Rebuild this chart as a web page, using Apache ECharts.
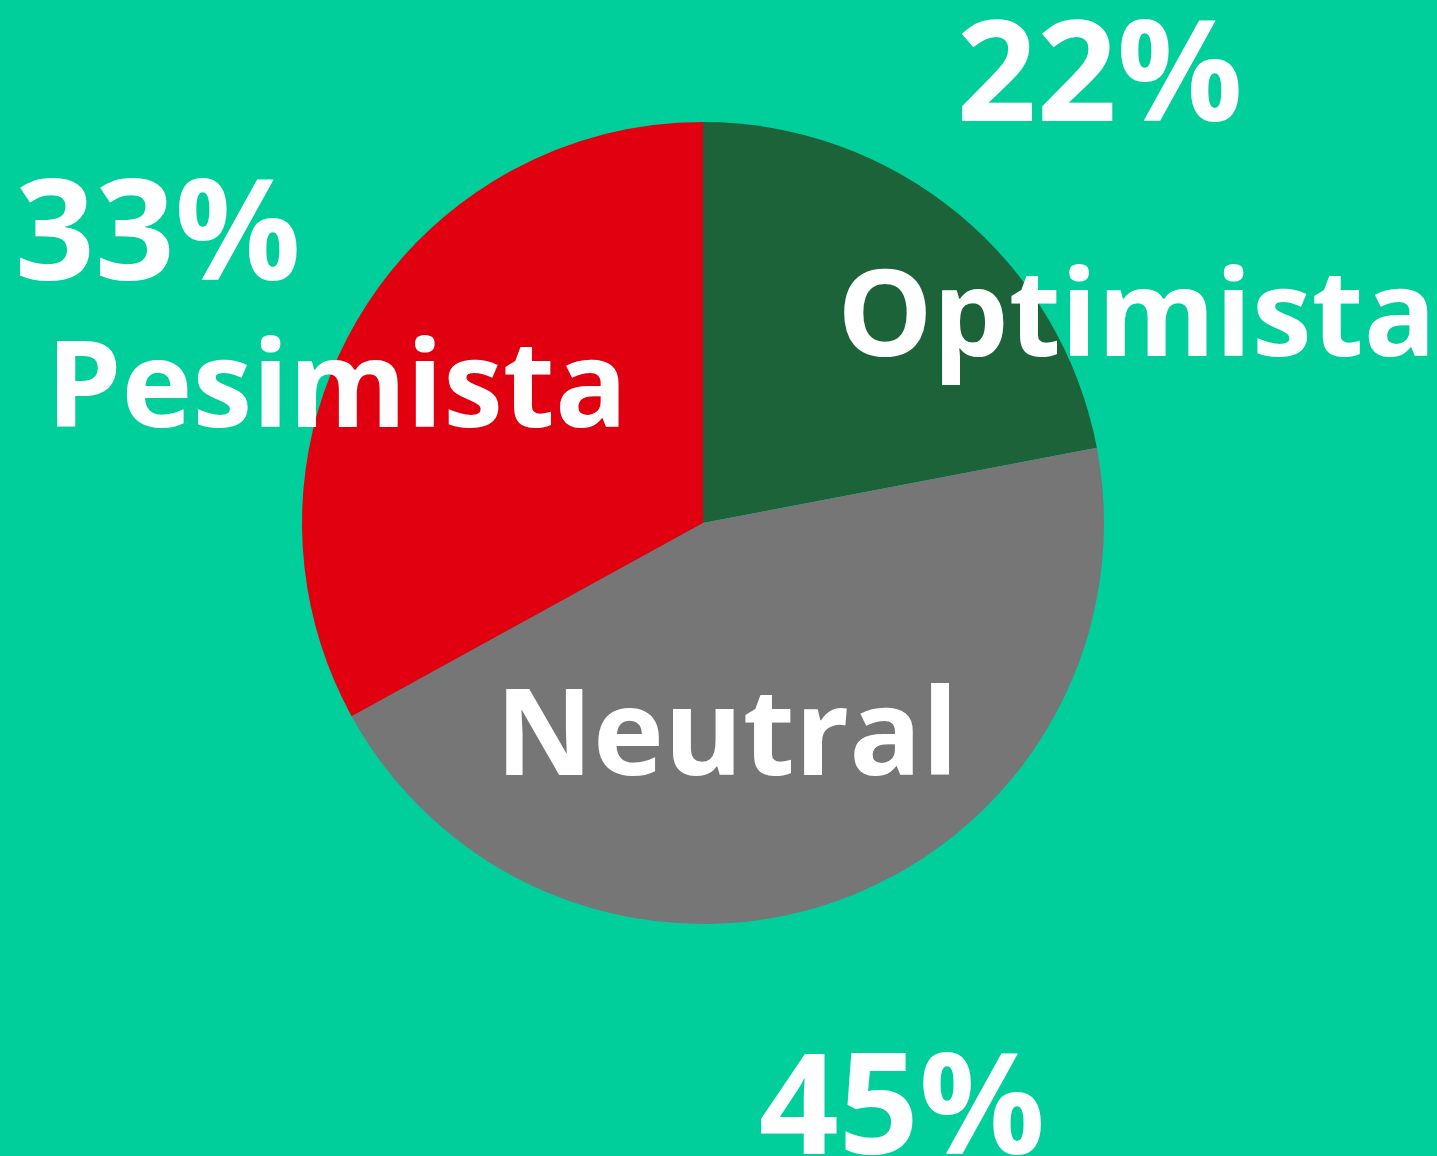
<!DOCTYPE html>
<html>
<head>
<meta charset="UTF-8">
<script src="https://cdn.jsdelivr.net/npm/echarts@6/dist/echarts.min.js"></script>
<style>
    html, body { margin: 0; padding: 0; background: #00CF9C; }
    #main { width: 1437px; height: 1156px; }
</style>
</head>
<body>
<div id="main"></div>
<script type="text/javascript">
    // datos de la encuesta
    var categories = ['Optimista', 'Neutral', 'Pesimista'];
    var values = [22, 45, 33];
    var colors = ['#1D6339', '#767676', '#E0000F'];

    // desplazamiento de etiquetas respecto a la posicion 'inside'
    var nameOffsets = [[304, -44], [-45, 26], [-191, -27]];
    var pctOffsets = [[267, -285], [130, 400], [-370, -179]];

    var chart = echarts.init(document.getElementById('main'));

    var pieData = categories.map(function (c, i) {
        return { name: c, value: values[i], itemStyle: { color: colors[i] } };
    });

    var labelFont = {
        color: '#ffffff',
        fontFamily: 'Open Sans',
        fontWeight: 'bold'
    };

    var option = {
        backgroundColor: '#00CF9C',
        animation: false,
        series: [
            {
                name: 'slices',
                type: 'pie',
                center: [703, 523],
                radius: [0, 401],
                startAngle: 90,
                clockwise: true,
                silent: true,
                data: pieData,
                label: Object.assign({
                    show: true,
                    position: 'inside',
                    fontSize: 120,
                    formatter: '{b}'
                }, labelFont),
                labelLine: { show: false },
                labelLayout: function (p) {
                    var o = nameOffsets[p.dataIndex];
                    return { dx: o[0], dy: o[1] };
                }
            },
            {
                name: 'pct',
                type: 'pie',
                center: [703, 523],
                radius: [0, 401],
                startAngle: 90,
                clockwise: true,
                silent: true,
                z: 3,
                data: categories.map(function (c, i) {
                    return { name: c, value: values[i] };
                }),
                itemStyle: { color: 'rgba(0,0,0,0)' },
                label: Object.assign({
                    show: true,
                    position: 'inside',
                    fontSize: 140,
                    formatter: function (p) {
                        return Math.round(p.percent) + '%';
                    }
                }, labelFont),
                labelLine: { show: false },
                labelLayout: function (p) {
                    var o = pctOffsets[p.dataIndex];
                    return { dx: o[0], dy: o[1] };
                }
            }
        ]
    };

    chart.setOption(option);
</script>
</body>
</html>
